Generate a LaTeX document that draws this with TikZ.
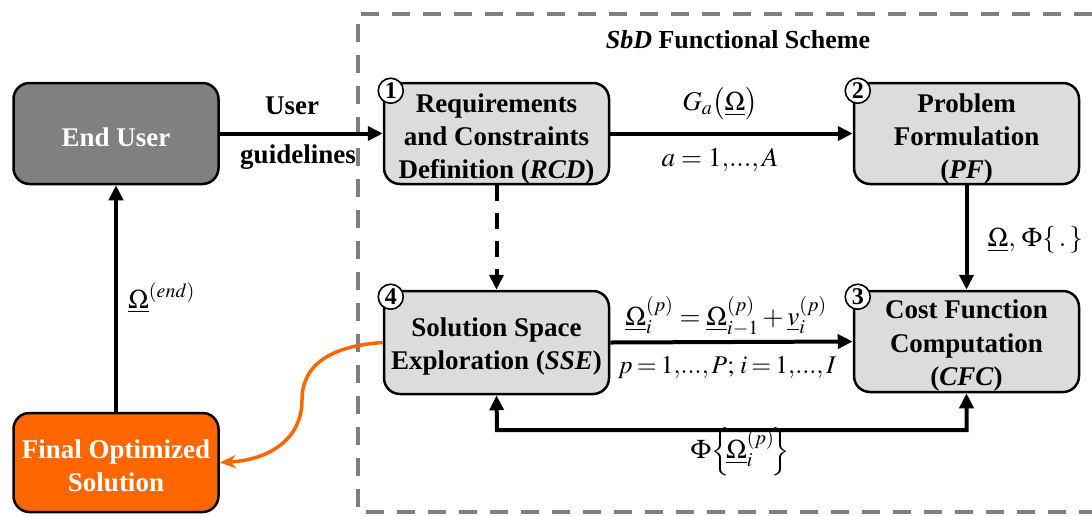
\documentclass[tikz,border=0pt]{standalone}
\usepackage{mathptmx}
\usepackage{fontspec}
\setmainfont{Liberation Serif}
\usetikzlibrary{arrows.meta}
\definecolor{boxgray}{RGB}{220,220,220}
\definecolor{darkbox}{RGB}{128,128,128}
\definecolor{orng}{RGB}{255,102,0}
\definecolor{dashgray}{RGB}{128,128,128}
\begin{document}
\begin{tikzpicture}[x=1pt,y=-1pt,
  box/.style={draw=black, line width=2.5pt, rounded corners=16pt, inner sep=0pt,
    minimum width=225pt, minimum height=101pt},
  boxtext/.style={align=center, font=\fontsize{27}{33.2}\selectfont\bfseries, inner sep=0pt},
  lbl/.style={font=\fontsize{27}{33}\selectfont, inner sep=0pt},
  blbl/.style={font=\fontsize{27}{33}\selectfont\bfseries, inner sep=0pt},
  arr/.style={line width=4pt, -{Triangle[length=15pt,width=14pt]}},
  numc/.style={circle, draw=black, fill=white, line width=1.6pt, minimum size=25pt,
    inner sep=0pt, font=\fontsize{24}{24}\selectfont\bfseries},
  border/.style={draw=dashgray, line width=4pt, dash pattern=on 18pt off 13pt}
]
\useasboundingbox (0,0) rectangle (1092,515);

% dashed frame
\draw[border] (1092,14) -- (358,14) -- (358,512) -- (1092,512);
\node[blbl, font=\fontsize{26}{30}\selectfont\bfseries] (title) at (738,40) {\textit{SbD} Functional Scheme};

% boxes
\node[box, fill=darkbox, minimum width=205pt] (eu) at (116,133.5) {};
\node[boxtext, text=white] (eut) at ([yshift=-4pt]eu.center) {End User};
\node[box, fill=orng, minimum width=205pt, minimum height=99pt] (fos) at (116,462.5) {};
\node[boxtext, text=white] (fost) at ([yshift=-3pt]fos.center) {Final Optimized\\Solution};
\node[box, fill=boxgray] (rcd) at (496.5,133.5) {};
\node[boxtext] (rcdt) at ([yshift=-5.5pt]rcd.center) {Requirements\\and Constraints\\Definition (\textit{RCD})};
\node[box, fill=boxgray] (pf) at (966.5,133.5) {};
\node[boxtext] (pft) at ([yshift=-5.5pt]pf.center) {Problem\\Formulation\\(\textit{PF})};
\node[box, fill=boxgray] (cfc) at (966.5,341.5) {};
\node[boxtext] (cfct) at ([yshift=-4pt]cfc.center) {Cost Function\\Computation\\(\textit{CFC})};
\node[box, fill=boxgray, minimum height=103pt] (sse) at (496.5,342.5) {};
\node[boxtext] (sset) at ([yshift=-4pt]sse.center) {Solution Space\\Exploration (\textit{SSE})};

% circled numbers
\node[numc] (n1) at ([shift={(8pt,-9pt)}]rcd.north west) {1};
\node[numc] (n2) at ([shift={(5pt,-9pt)}]pf.north west) {2};
\node[numc] (n3) at ([shift={(5pt,-7pt)}]cfc.north west) {3};
\node[numc] (n4) at ([shift={(8pt,-7pt)}]sse.north west) {4};

% connectors
\draw[arr] (eu.east) -- (rcd.west);
\node[blbl] (ug1) at (292,106) {User};
\node[blbl] (ug2) at (298,157) {guidelines};

\draw[arr] (rcd.east) -- (pf.west);
\node[lbl] (ga) at (720,104) {$G_a\bigl(\underline{\Omega}\bigr)$};
\node[lbl] (aa) at (720,160) {$a = 1,\!...,A$};

\draw[arr] (pf.south) -- (cfc.north);
\node[lbl, anchor=east] (om) at (1083,240) {$\underline{\Omega},\,\Phi\{\,.\,\}$};

\draw[arr, dash pattern=on 16pt off 12pt] (rcd.south) -- (sse.north);

\draw[arr] (sse.east) -- (cfc.west);
\node[lbl] (upd) at (726,316) {$\underline{\Omega}_i^{(p)}=\underline{\Omega}_{i-1}^{(p)}+\underline{v}_i^{(p)}$};
\node[lbl, font=\fontsize{25.5}{31}\selectfont] (pp) at (727,368) {\thickmuskip=3mu $p=1,\!...,P;\,i=1,\!...,I$};

\coordinate (b1) at (497,430);
\coordinate (b2) at (966.5,430);
\draw[line width=4pt, {Triangle[length=15pt,width=14pt]}-{Triangle[length=15pt,width=14pt]}]
  (sse.south) -- (b1) -- (b2) -- (cfc.south);
\node[lbl] (phi) at (740,452) {$\Phi\!\left\{\!\underline{\Omega}_i^{(p)}\!\right\}$};

\draw[arr] (fos.north) -- (eu.south);
\node[lbl, anchor=west] (oe) at (128,298) {$\underline{\Omega}^{(end)}$};

\draw[orng, line width=3.5pt, -{Stealth[length=16pt,width=13pt]}]
  (sse.west) .. controls (330,346) and (302,365) .. (302,400)
  .. controls (302,440) and (268,460) .. (fos.east);
\end{tikzpicture}
\end{document}
